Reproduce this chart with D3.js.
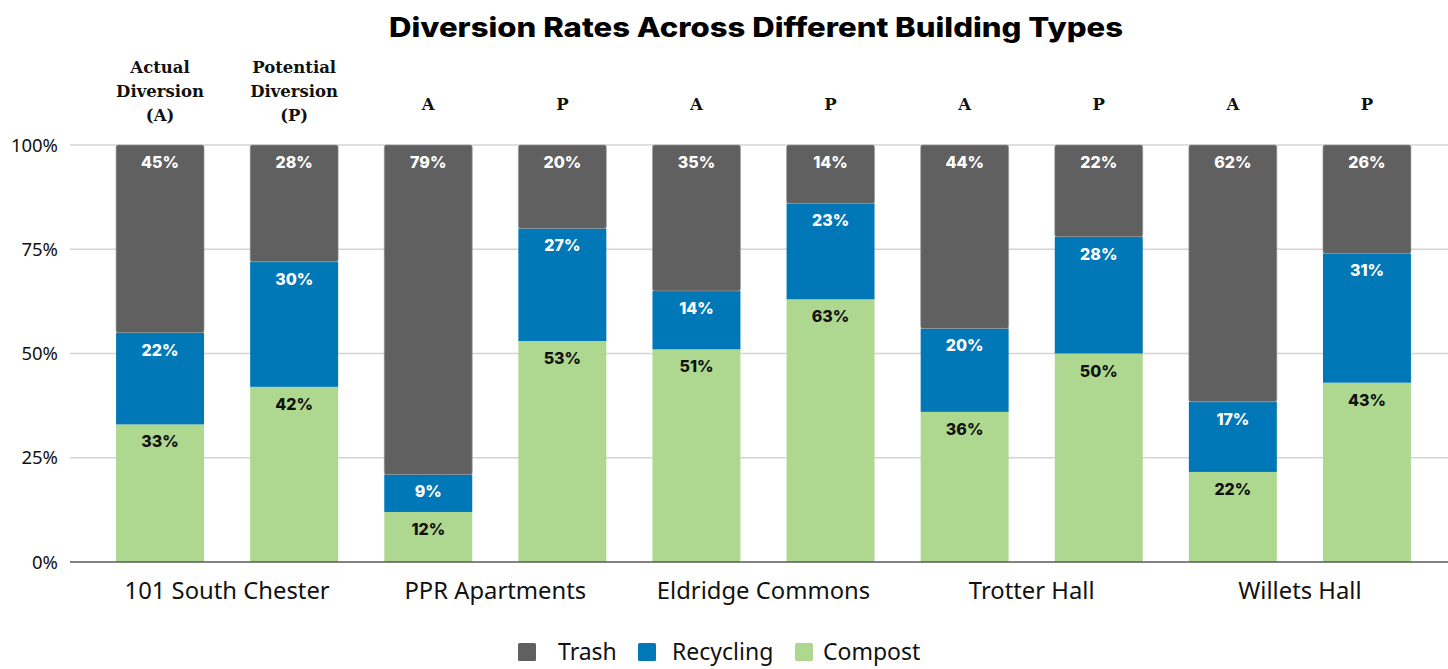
<!DOCTYPE html>
<html><head><meta charset="utf-8">
<script src="https://cdn.jsdelivr.net/npm/d3@7"></script>
<style>body{margin:0;background:#fff}</style>
</head><body>
<svg id="c" width="1448" height="669"></svg>
<script>
const groups = ["101 South Chester","PPR Apartments","Eldridge Commons","Trotter Hall","Willets Hall"];
const barTypes = ["A","P","A","P","A","P","A","P","A","P"];
const topLabels = [["Actual","Diversion","(A)"],["Potential","Diversion","(P)"],["A"],["P"],["A"],["P"],["A"],["P"],["A"],["P"]];
const compost   = [33,42,12,53,51,63,36,50,21.6,43];
const recycling = [22,30, 9,27,14,23,20,28,16.8,31];
const trash     = [45,28,79,20,35,14,44,22,61.6,26];
const yTicks = [0,25,50,75,100];
const seriesNames = ["Trash","Recycling","Compost"];
const colors = {Trash:"#606060",Recycling:"#0077b6",Compost:"#aed890"};

const svg = d3.select("#c");
const y = d3.scaleLinear().domain([0,100]).range([562,145]);
const idx = d3.range(compost.length);
const x = d3.scaleBand().domain(idx).range([93,1434]).paddingInner(0.344).paddingOuter(0.172);

// title
svg.append("text").attr("x",756).attr("y",37).attr("text-anchor","middle")
  .attr("font-family","Inter, 'Open Sans', sans-serif").attr("font-weight",800)
  .attr("font-size",27).attr("fill","#000")
  .attr("textLength",734).attr("lengthAdjust","spacingAndGlyphs")
  .text("Diversion Rates Across Different Building Types");

// gridlines
svg.append("g").selectAll("line").data(yTicks.filter(d=>d>0)).join("line")
  .attr("x1",70).attr("x2",1448).attr("y1",d=>y(d)).attr("y2",d=>y(d))
  .attr("stroke","#d4d4d4").attr("stroke-width",1.3);

// y tick labels
svg.append("g").selectAll("text").data(yTicks).join("text")
  .attr("x",58).attr("y",d=>y(d)+6.5).attr("text-anchor","end")
  .attr("font-family","'Noto Sans', 'Open Sans', sans-serif").attr("font-size",18.5).attr("fill","#111")
  .text(d=>d+"%");

// stacked data
const rows = idx.map(i=>({i, Compost:compost[i], Recycling:recycling[i], Trash:trash[i]}));
const stack = d3.stack().keys(["Compost","Recycling","Trash"])(rows);

const layer = svg.append("g").selectAll("g").data(stack).join("g").attr("fill",d=>colors[d.key]);
layer.selectAll("rect").data(d=>d.map(v=>({v,key:d.key}))).join("rect")
  .attr("x",d=>x(d.v.data.i)).attr("width",x.bandwidth())
  .attr("y",d=>y(d.v[1])).attr("height",d=>y(d.v[0])-y(d.v[1]))
  .attr("rx",d=>d.key==="Trash"?2:0)
  .attr("stroke",d=>d.key==="Trash"?"#9a9a9a":"none").attr("stroke-width",0.6);

// value labels
stack.forEach(s=>{
  svg.append("g").selectAll("text").data(s).join("text")
    .attr("x",d=>x(d.data.i)+x.bandwidth()/2).attr("y",d=>y(d[1])+23)
    .attr("text-anchor","middle").attr("font-family","Inter, 'Open Sans', sans-serif")
    .attr("font-weight",800).attr("font-size",16)
    .attr("fill",s.key==="Compost"?"#111":"#fff")
    .text(d=>Math.round(d[1]-d[0])+"%");
});

// axis line
svg.append("line").attr("x1",70).attr("x2",1448).attr("y1",y(0)).attr("y2",y(0))
  .attr("stroke","#595959").attr("stroke-width",1.5);

// top labels
const tl = svg.append("g").selectAll("text").data(idx).join("text")
  .attr("text-anchor","middle").attr("font-family","'DejaVu Serif', 'Liberation Serif', serif")
  .attr("font-weight","bold").attr("font-size",16.5).attr("fill","#111");
tl.each(function(i){
  const lines = topLabels[i];
  const t = d3.select(this);
  const cx = x(i)+x.bandwidth()/2;
  const startY = lines.length>1 ? 73 : 110;
  lines.forEach((ln,k)=>{
    t.append("tspan").attr("x",cx).attr("y",startY+k*24).text(ln);
  });
});

// group labels
svg.append("g").selectAll("text").data(groups).join("text")
  .attr("x",(d,g)=>(x(2*g)+x(2*g+1)+x.bandwidth())/2).attr("y",599)
  .attr("text-anchor","middle").attr("font-family","'Noto Sans', 'Open Sans', sans-serif")
  .attr("font-size",23.8).attr("fill","#111").text(d=>d);

// legend
const legX = [518,638,795];
const leg = svg.append("g").selectAll("g").data(seriesNames).join("g")
  .attr("transform",(d,k)=>`translate(${legX[k]},643)`);
leg.append("rect").attr("width",18).attr("height",18).attr("rx",1.5).attr("fill",d=>colors[d]);
leg.append("text").attr("x",(d,k)=>k===0?40:k===1?34:28).attr("y",17)
  .attr("font-family","'Noto Sans', 'Open Sans', sans-serif").attr("font-size",23).attr("fill","#111").text(d=>d);
</script>
</body></html>
